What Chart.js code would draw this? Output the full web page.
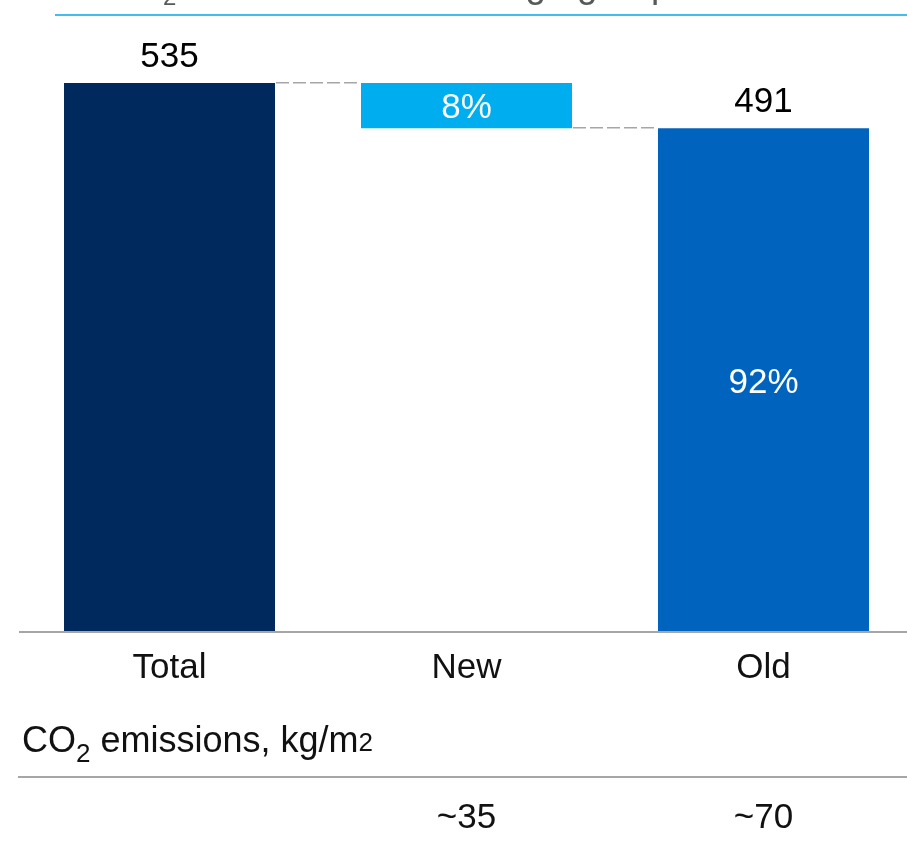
<!DOCTYPE html>
<html>
<head>
<meta charset="utf-8">
<script src="https://cdn.jsdelivr.net/npm/chart.js@4"></script>
<style>
  html, body { margin: 0; padding: 0; background: #ffffff; overflow: hidden; }
  #wrap { position: absolute; left: 0; top: 0; width: 912px; height: 846px; }
</style>
</head>
<body>
<div id="wrap"><canvas id="c" width="912" height="846"></canvas></div>
<script>
// ---- data ----
const categories = ['Total', 'New', 'Old'];
const barLow = [0, 491, 0];
const barHigh = [535, 535, 491];
const valueLabels = ['535', '', '491'];
const shareLabels = ['', '8%', '92%'];
const connectorLevels = [535, 491];
const emissionLabels = ['', '~35', '~70'];
const emissionRowTitle = 'CO₂ emissions, kg/m²';
const barColors = ['#00295E', '#00AEEF', '#0064BF'];

const FONT = '"Liberation Sans", Arial, sans-serif';

const decorPlugin = {
  id: 'decor',
  afterDatasetsDraw(chart) {
    const ctx = chart.ctx;
    const xs = chart.scales.x, ys = chart.scales.y;
    const meta = chart.getDatasetMeta(0);
    ctx.save();

    // top partial title (cut off by the page top)
    ctx.fillStyle = '#595959';
    ctx.textBaseline = 'alphabetic';
    ctx.font = '37px ' + FONT;
    ctx.textAlign = 'right';
    ctx.fillText('CO', 163, -3.5);
    ctx.textAlign = 'left';
    ctx.font = '24px ' + FONT;
    ctx.fillText('2', 163, 5);
    ctx.font = '37px ' + FONT;
    ctx.fillText(' emissions from each', 176, -3.5);
    ctx.fillText('age group', 505, -3.5);

    // cyan rule
    ctx.strokeStyle = '#3FBFEF';
    ctx.lineWidth = 2;
    ctx.beginPath();
    ctx.moveTo(55, 15);
    ctx.lineTo(907, 15);
    ctx.stroke();

    // dashed connectors
    ctx.strokeStyle = '#A6A6A6';
    ctx.lineWidth = 1.5;
    ctx.setLineDash([13, 4]);
    for (let i = 0; i < connectorLevels.length; i++) {
      const a = meta.data[i], b = meta.data[i + 1];
      const y = Math.round(ys.getPixelForValue(connectorLevels[i])) - 0.25;
      ctx.beginPath();
      ctx.moveTo(a.x + a.width / 2 + 1, y);
      ctx.lineTo(b.x - b.width / 2 - 1, y);
      ctx.stroke();
    }
    ctx.setLineDash([]);

    // axis baseline
    const y0 = ys.getPixelForValue(0);
    ctx.strokeStyle = '#A6A6A6';
    ctx.lineWidth = 2;
    ctx.beginPath();
    ctx.moveTo(19, y0);
    ctx.lineTo(907, y0);
    ctx.stroke();

    // value labels above bars
    ctx.font = '35px ' + FONT;
    ctx.textAlign = 'center';
    ctx.fillStyle = '#000000';
    for (let i = 0; i < categories.length; i++) {
      if (!valueLabels[i]) continue;
      const x = xs.getPixelForValue(i);
      const y = ys.getPixelForValue(barHigh[i]);
      ctx.fillText(valueLabels[i], x, y - 16);
    }
    // share labels inside bars
    ctx.fillStyle = '#FFFFFF';
    for (let i = 0; i < categories.length; i++) {
      if (!shareLabels[i]) continue;
      const x = xs.getPixelForValue(i);
      const yc = (ys.getPixelForValue(barHigh[i]) + ys.getPixelForValue(barLow[i])) / 2;
      ctx.fillText(shareLabels[i], x, yc + 12.5);
    }

    // emissions row
    ctx.fillStyle = '#111111';
    ctx.textAlign = 'left';
    let x = 22;
    const base = 752;
    ctx.font = '36px ' + FONT;
    ctx.fillText('CO', x, base); x += ctx.measureText('CO').width;
    ctx.font = '26px ' + FONT;
    ctx.fillText('2', x, base + 10); x += ctx.measureText('2').width;
    ctx.font = '36px ' + FONT;
    ctx.fillText(' emissions, kg/m', x, base); x += ctx.measureText(' emissions, kg/m').width;
    ctx.font = '26px ' + FONT;
    ctx.fillText('2', x, base - 1);

    ctx.strokeStyle = '#A6A6A6';
    ctx.lineWidth = 2;
    ctx.beginPath();
    ctx.moveTo(18, 777);
    ctx.lineTo(907, 777);
    ctx.stroke();

    ctx.font = '35px ' + FONT;
    ctx.textAlign = 'center';
    ctx.fillStyle = '#111111';
    for (let i = 0; i < categories.length; i++) {
      if (!emissionLabels[i]) continue;
      ctx.fillText(emissionLabels[i], xs.getPixelForValue(i), 828);
    }
    ctx.restore();
  }
};

new Chart(document.getElementById('c'), {
  type: 'bar',
  data: {
    labels: categories,
    datasets: [{
      data: categories.map((_, i) => [barLow[i], barHigh[i]]),
      backgroundColor: barColors,
      borderWidth: 0,
      barPercentage: 1,
      categoryPercentage: 211 / 297
    }]
  },
  options: {
    responsive: false,
    animation: false,
    devicePixelRatio: 1,
    layout: { padding: { left: 21, right: 0, top: 83, bottom: 142 } },
    plugins: { legend: { display: false }, tooltip: { enabled: false }, title: { display: false } },
    scales: {
      x: {
        grid: { display: false, drawTicks: false },
        border: { display: false },
        ticks: { color: '#111111', padding: 15, font: { family: FONT, size: 35 } }
      },
      y: { display: false, min: 0, max: 535 }
    }
  },
  plugins: [decorPlugin]
});
</script>
</body>
</html>
